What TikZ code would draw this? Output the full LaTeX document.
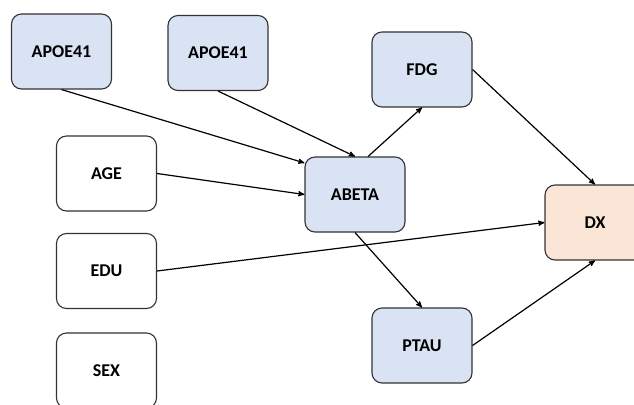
\documentclass[tikz,border=0pt]{standalone}
\usepackage{fontspec}
\setmainfont{Carlito}
\usetikzlibrary{positioning,arrows}

\definecolor{varblue}{HTML}{DAE3F3}
\definecolor{varorange}{HTML}{FBE5D6}
\definecolor{varline}{HTML}{333333}

\begin{document}
\begin{tikzpicture}[x=1pt,y=-1pt]
    \tikzstyle{every node}=[font=\bfseries\fontsize{18}{21}\selectfont]
    \tikzstyle{var}=[draw=varline,line width=1.1,rounded corners=10,minimum width=100,minimum height=75,inner sep=0]
    \tikzstyle{measured}=[var,fill=varblue]
    \tikzstyle{target}=[var,fill=varorange]
    \useasboundingbox (0,0) rectangle (634,404);

    % genetic factors
    \node[measured] (apoeA) at (61.5,51.5) {APOE41};
    \node[measured] (apoeB) at (218,53) {APOE41};

    % demographics
    \node[var] (age) at (106.5,173.5) {AGE};
    \node[var] (edu) at (106.5,271) {EDU};
    \node[var] (sex) at (106.5,370.5) {SEX};

    % biomarkers
    \node[measured] (abeta) at (355,194.5) {ABETA};
    \node[measured] (fdg) at (422,69.5) {FDG};
    \node[measured] (ptau) at (422,345.5) {PTAU};

    % diagnosis
    \node[target] (dx) at (595,222.5) {DX};

    \path[->,>=stealth',line width=1.2]
        (apoeA.south) edge (abeta.148)
        (apoeB.south) edge (abeta.north)
        (age.east) edge (abeta.west)
        (edu.east) edge (dx.west)
        (abeta.71) edge (fdg.south)
        (abeta.south) edge (ptau.north)
        (fdg.east) edge (dx.north)
        (ptau.east) edge (dx.south);
\end{tikzpicture}
\end{document}
